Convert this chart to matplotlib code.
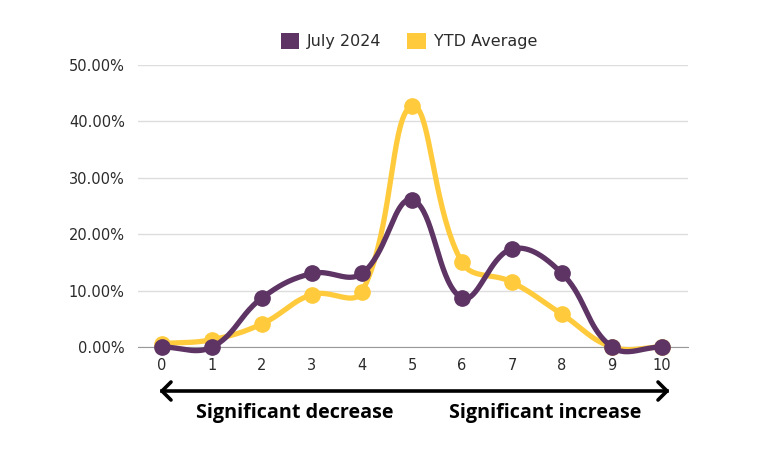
import numpy as np
import matplotlib
matplotlib.use("Agg")
import matplotlib.pyplot as plt
from matplotlib.patches import Patch

scores = [0, 1, 2, 3, 4, 5, 6, 7, 8, 9, 10]
july_2024 = [0.0, 0.0, 8.7, 13.04, 13.04, 26.09, 8.7, 17.39, 13.04, 0.0, 0.0]
ytd_average = [0.6, 1.3, 4.1, 9.3, 9.8, 42.7, 15.0, 11.5, 5.8, 0.0, 0.0]
y_ticks = [0, 10, 20, 30, 40, 50]

purple = "#5D3464"
yellow = "#FFCB3D"

plt.rcParams['font.family'] = ['DejaVu Sans']


def smooth(x, y, tension=0.4, sx=50.0, sy=5.64, n=40):
    # bezier spline through the points, control points worked out in pixel space
    P = np.column_stack([np.asarray(x, float) * sx, np.asarray(y, float) * sy])
    k = len(P)
    cp_in = P.copy()
    cp_out = P.copy()
    for i in range(k):
        prev = P[max(i - 1, 0)]
        nxt = P[min(i + 1, k - 1)]
        d01 = np.hypot(*(P[i] - prev))
        d12 = np.hypot(*(nxt - P[i]))
        tot = d01 + d12
        s01 = d01 / tot if tot else 0
        s12 = d12 / tot if tot else 0
        cp_in[i] = P[i] - tension * s01 * (nxt - prev)
        cp_out[i] = P[i] + tension * s12 * (nxt - prev)
    pts = []
    t = np.linspace(0, 1, n)[:, None]
    for i in range(k - 1):
        b = ((1 - t)**3 * P[i] + 3 * (1 - t)**2 * t * cp_out[i]
             + 3 * (1 - t) * t**2 * cp_in[i + 1] + t**3 * P[i + 1])
        pts.append(b)
    pts = np.vstack(pts)
    return pts[:, 0] / sx, pts[:, 1] / sy


fig = plt.figure(figsize=(7.63, 4.67), dpi=100)
ax = fig.add_axes([138/763, 120/467, 550/763, 282/467])

for vals, col, z in [(ytd_average, yellow, 3), (july_2024, purple, 4)]:
    cx, cy = smooth(scores, vals)
    ax.plot(cx, cy, color=col, lw=3.8, zorder=z, solid_capstyle='round', clip_on=False)
    ax.plot(scores, vals, 'o', color=col, ms=11, zorder=z, clip_on=False)

ax.set_xlim(-0.48, 10.52)
ax.set_ylim(0, 50)
ax.set_yticks(y_ticks)
ax.set_yticklabels([f"{v:.2f}%" for v in y_ticks])
ax.set_xticks(scores)
ax.tick_params(length=0, labelsize=10.5, colors="#2b2b2b", pad=9.5)
ax.tick_params(axis='x', pad=8)
ax.yaxis.grid(True, color="#dddddd", lw=1)
ax.set_axisbelow(True)
for s in ['top', 'right', 'left']:
    ax.spines[s].set_visible(False)
ax.spines['bottom'].set_color("#999999")
ax.spines['bottom'].set_zorder(2)
ax.patch.set_alpha(0)

handles = [Patch(facecolor=purple, label="July 2024"),
           Patch(facecolor=yellow, label="YTD Average")]
fig.legend(handles=handles, loc='center', bbox_to_anchor=(409/763, 1 - 41/467),
           ncol=2, frameon=False, fontsize=11.5, handlelength=1.15, handleheight=1.15,
           columnspacing=1.6, handletextpad=0.5, labelcolor="#2b2b2b")

# double arrow under the axis
fig.add_artist(plt.Line2D([162/763, 667/763], [1 - 391/467]*2, color='black', lw=2.6))
for xe, d in [(162, 1), (667, -1)]:
    fig.add_artist(plt.Line2D([(xe + d*9)/763, xe/763, (xe + d*9)/763],
                              [1 - 382/467, 1 - 391/467, 1 - 400/467],
                              color='black', lw=2.6, solid_capstyle='round',
                              solid_joinstyle='round'))

fig.text(295/763, 1 - 413/467, "Significant decrease", ha='center', va='center',
         fontsize=14.2, fontweight='bold', family=['Open Sans', 'DejaVu Sans'])
fig.text(545/763, 1 - 413/467, "Significant increase", ha='center', va='center',
         fontsize=14.2, fontweight='bold', family=['Open Sans', 'DejaVu Sans'])

fig.savefig("out.png", dpi=100)
